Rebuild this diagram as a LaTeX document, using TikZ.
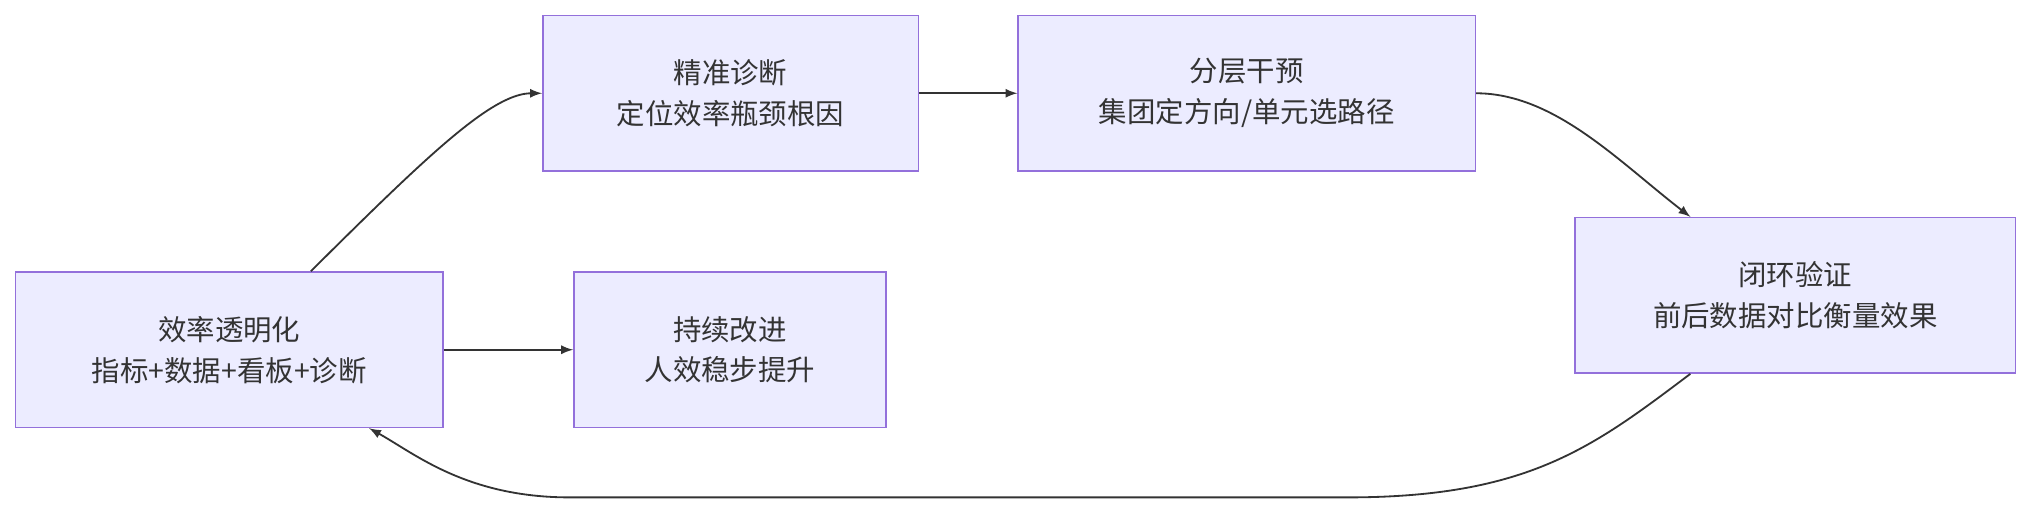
\documentclass[tikz,border=0pt]{standalone}
\usepackage{fontspec}
\newfontfamily\cjk{Noto Sans CJK SC}
\usetikzlibrary{positioning}
\definecolor{BoxFill}{HTML}{ECECFF}
\definecolor{BoxLine}{HTML}{9370DB}
\definecolor{ArrowInk}{HTML}{333333}

\begin{document}
\begin{tikzpicture}[x=0.02cm,y=-0.02cm,
    font=\cjk\fontsize{12.5}{18}\selectfont,
    box/.style={shape=rectangle,draw=BoxLine,fill=BoxFill,line width=0.7pt,
      minimum height=2.4cm,align=center,text=ArrowInk},
    flow/.style={draw=ArrowInk,line width=0.8pt,-latex}]
    \path [use as bounding box] (0,0) rectangle (1568,397);

    \node[name=clear,box,minimum width=6.6cm] at (177,270) {效率透明化\\指标+数据+看板+诊断};
    \node[name=diag,box,minimum width=5.8cm] at (564,72) {精准诊断\\定位效率瓶颈根因};
    \node[name=layer,box,minimum width=7.06cm] at (962.5,72) {分层干预\\集团定方向/单元选路径};
    \node[name=verify,box,minimum width=6.8cm] at (1386,228) {闭环验证\\前后数据对比衡量效果};
    \node[name=improve,box,minimum width=4.82cm] at (563.5,270) {持续改进\\人效稳步提升};

    \path[flow] ([xshift=1.26cm]clear.north) .. controls (330,120) and (380,72) .. (diag.west);
    \path[flow] (diag) -- (layer);
    \path[flow] (layer.east) .. controls (1200,72) and (1250,125) .. ([xshift=-1.62cm]verify.north);
    \path[flow] ([xshift=-1.62cm]verify.south) .. controls (1230,345) and (1180,384) .. (1040,384)
      -- (440,384) .. controls (360,384) and (320,350) .. ([xshift=2.16cm]clear.south);
    \path[flow] (clear) -- (improve);
  \end{tikzpicture}
\end{document}
